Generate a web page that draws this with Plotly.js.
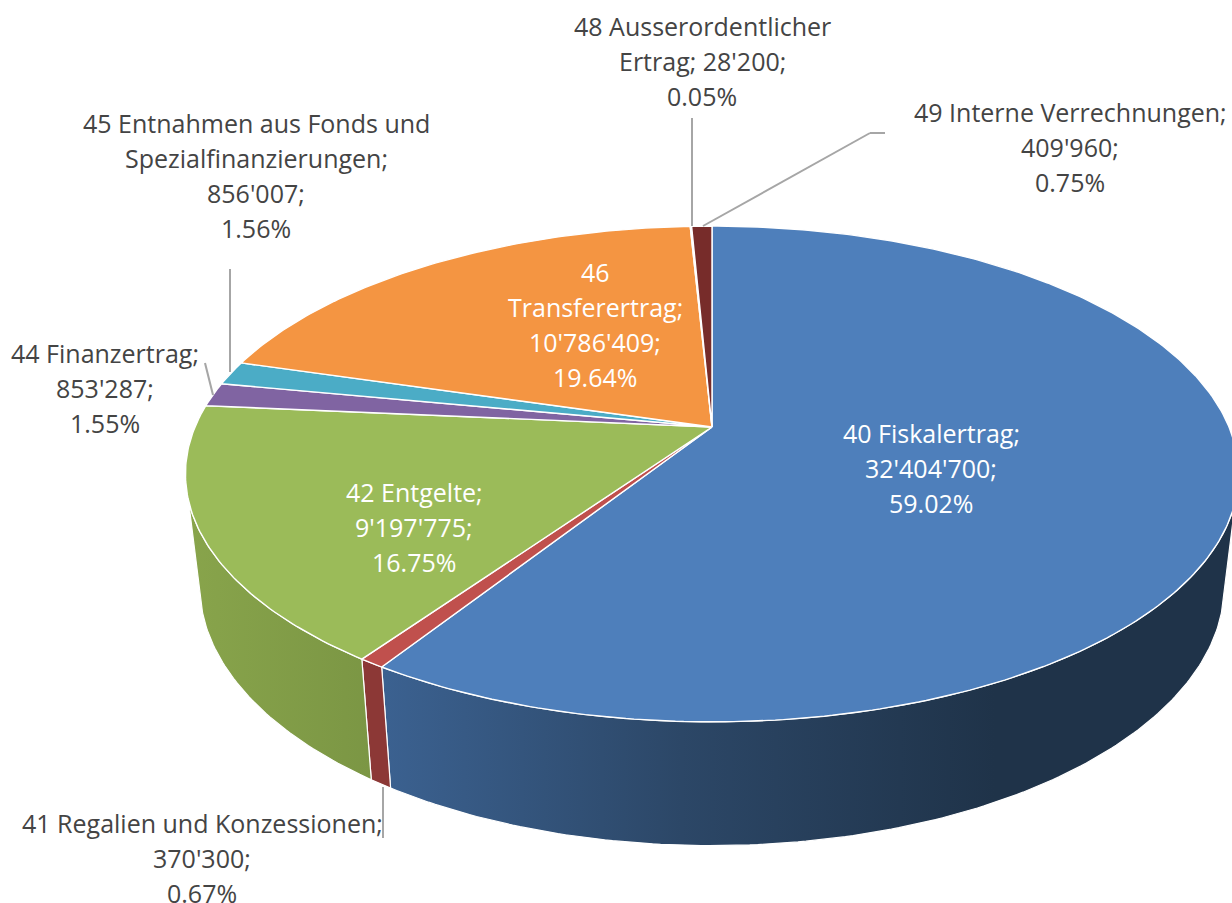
<!DOCTYPE html>
<html>
<head>
<meta charset="utf-8">
<script src="https://cdn.plot.ly/plotly-3.0.1.min.js"></script>
<style>html,body{margin:0;padding:0;background:#fff}#chart{width:1232px;height:903px}</style>
</head>
<body>
<div id="chart"></div>
<script>
// ---- data ----
const categories = ["40 Fiskalertrag", "41 Regalien und Konzessionen", "42 Entgelte", "44 Finanzertrag",
  "45 Entnahmen aus Fonds und Spezialfinanzierungen", "46 Transferertrag", "48 Ausserordentlicher Ertrag", "49 Interne Verrechnungen"];
const values = [32404700, 370300, 9197775, 853287, 856007, 10786409, 28200, 409960];
const percents = ["59.02%", "0.67%", "16.75%", "1.55%", "1.56%", "19.64%", "0.05%", "0.75%"];
const amounts = ["32'404'700", "370'300", "9'197'775", "853'287", "856'007", "10'786'409", "28'200", "409'960"];
const sliceColors = ["#4E7FBB", "#C0504D", "#9BBB59", "#8064A2", "#4BACC6", "#F49542", "#2C4D75", "#772C2A"];

// label line breaks per category
const labelLines = [
  ["40 Fiskalertrag;", "32'404'700;", "59.02%"],
  ["41 Regalien und Konzessionen;", "370'300;", "0.67%"],
  ["42 Entgelte;", "9'197'775;", "16.75%"],
  ["44 Finanzertrag;", "853'287;", "1.55%"],
  ["45 Entnahmen aus Fonds und", "Spezialfinanzierungen;", "856'007;", "1.56%"],
  ["46", "Transferertrag;", "10'786'409;", "19.64%"],
  ["48 Ausserordentlicher", "Ertrag; 28'200;", "0.05%"],
  ["49 Interne Verrechnungen;", "409'960;", "0.75%"]
];
const labelX = [931, 202, 414, 105, 256, 595, 702, 1070];
const labelY = [433, 823, 492, 353, 123, 272, 26, 112];
const labelColor = ["#fff", "#444", "#fff", "#444", "#444", "#fff", "#444", "#444"];

// ---- layout of the tilted disc (perspective projection of a circle) ----
const CX = 712, CY = 427, RX = 517, RY = 239, K = 0.1895;
const BOTTOM_SCALE_X = 0.973, BOTTOM_CY = 536, BOTTOM_SCALE_Y = 1.05;
const SILHOUETTE = 0.29;          // walls are visible where depth >= this
const LINE_GAP = 35;

function rimTop(theta) {
  const X = Math.sin(theta), Y = -Math.cos(theta), w = 1 - K * Y;
  return [CX + RX * X / w, CY + RY * Y / w];
}
function rimBottom(theta) {
  const p = rimTop(theta);
  return [CX + (p[0] - CX) * BOTTOM_SCALE_X, BOTTOM_CY + (p[1] - CY) * BOTTOM_SCALE_Y];
}
function arc(a0, a1, fn) {
  const n = Math.max(2, Math.ceil(Math.abs(a1 - a0) / (Math.PI / 240)));
  const out = [];
  for (let i = 0; i <= n; i++) out.push(fn(a0 + (a1 - a0) * i / n));
  return out;
}

const total = values.reduce((a, b) => a + b, 0);
let cum = 0;
const bounds = values.map(v => { const a0 = cum / total * 2 * Math.PI; cum += v; return [a0, cum / total * 2 * Math.PI]; });

const wallFrom = Math.acos(-SILHOUETTE);              // right silhouette
const wallTo = 2 * Math.PI - wallFrom;                // left silhouette

const wallStyles = {
  0: {stops: [[0, "#3B6190"], [0.35, "#2C4767"], [0.72, "#1F3349"], [1, "#1F3349"]], start: 385, stop: 1232},
  1: {stops: [[0, "#8C3836"], [1, "#8C3836"]], start: 360, stop: 395},
  2: {stops: [[0, "#88A44B"], [1, "#7B9644"]], start: 190, stop: 372}
};

const traces = [];
Object.keys(wallStyles).forEach(key => {
  const i = +key, st = wallStyles[i];
  const a0 = Math.max(bounds[i][0], wallFrom), a1 = Math.min(bounds[i][1], wallTo);
  const pts = arc(a0, a1, rimTop).concat(arc(a1, a0, rimBottom));
  pts.push(pts[0]);
  traces.push({
    type: "scatter", mode: "lines", name: categories[i] + " (side)",
    x: pts.map(p => p[0]), y: pts.map(p => p[1]),
    fill: "toself",
    fillgradient: {type: "horizontal", colorscale: st.stops, start: st.start, stop: st.stop},
    line: {color: "#fff", width: 1.2}, hoverinfo: "skip", showlegend: false
  });
});

values.forEach((v, i) => {
  const pts = [[CX, CY]].concat(arc(bounds[i][0], bounds[i][1], rimTop));
  pts.push([CX, CY]);
  traces.push({
    type: "scatter", mode: "lines", name: categories[i],
    x: pts.map(p => p[0]), y: pts.map(p => p[1]),
    fill: "toself", fillcolor: sliceColors[i],
    line: {color: "#fff", width: 1.4},
    text: categories[i] + ": " + amounts[i] + " (" + percents[i] + ")",
    hoverinfo: "text", showlegend: false
  });
});

const leaders = [
  [[230, 269], [230, 372]],
  [[205, 363], [213, 395]],
  [[692, 118], [692, 226]],
  [[885, 133], [870, 133]],
  [[870, 133], [703, 226]],
  [[383, 787], [383, 838]]
];
const shapes = leaders.map(l => ({
  type: "line", xref: "x", yref: "y",
  x0: l[0][0], y0: l[0][1], x1: l[1][0], y1: l[1][1],
  line: {color: "#A6A6A6", width: 2}
}));

const annotations = [];
labelLines.forEach((lines, i) => {
  lines.forEach((t, j) => annotations.push({
    xref: "x", yref: "y", x: labelX[i], y: labelY[i] + j * LINE_GAP,
    text: t, showarrow: false, xanchor: "center", yanchor: "middle",
    font: {family: "'Open Sans', 'Noto Sans', sans-serif", size: 25, color: labelColor[i]}
  }));
});

const layout = {
  width: 1232, height: 903,
  margin: {l: 0, r: 0, t: 0, b: 0},
  paper_bgcolor: "#fff", plot_bgcolor: "#fff",
  showlegend: false,
  xaxis: {range: [0, 1232], visible: false, fixedrange: true},
  yaxis: {range: [903, 0], visible: false, fixedrange: true},
  shapes: shapes, annotations: annotations
};
Plotly.newPlot("chart", traces, layout, {displayModeBar: false, responsive: false});
</script>
</body>
</html>
